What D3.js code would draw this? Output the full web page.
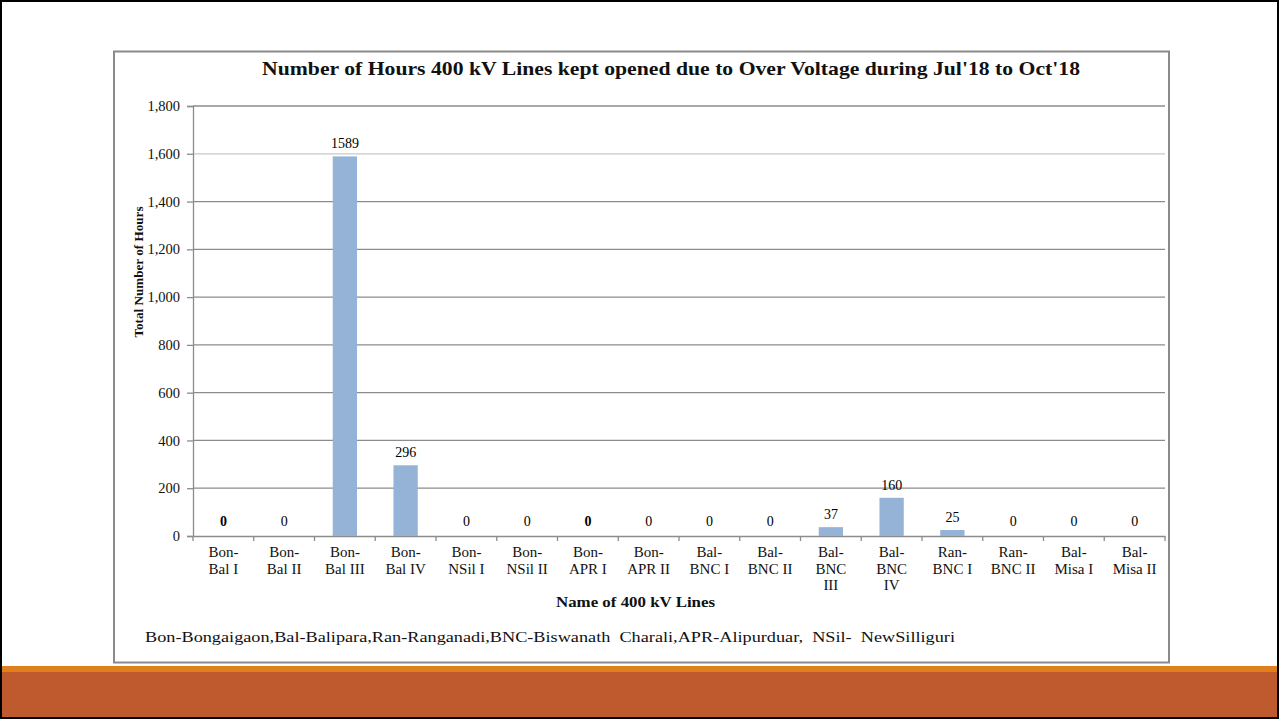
<!DOCTYPE html>
<html><head><meta charset="utf-8">
<script src="https://cdn.jsdelivr.net/npm/d3@7"></script>
<style>body{margin:0;background:#fff;}svg{display:block;font-family:"Liberation Serif","Times New Roman",serif;}</style>
</head><body>
<svg id="c" width="1279" height="719"></svg>
<script>
const categories = ["Bon-\nBal I","Bon-\nBal II","Bon-\nBal III","Bon-\nBal IV","Bon-\nNSil I","Bon-\nNSil II","Bon-\nAPR I","Bon-\nAPR II","Bal-\nBNC I","Bal-\nBNC II","Bal-\nBNC\nIII","Bal-\nBNC\nIV","Ran-\nBNC I","Ran-\nBNC II","Bal-\nMisa I","Bal-\nMisa II"];
const hours = [0,0,1589,296,0,0,0,0,0,0,37,160,25,0,0,0];
const yTicks = [0,200,400,600,800,1000,1200,1400,1600,1800];
const title = "Number of Hours 400 kV Lines kept opened due to Over Voltage during Jul'18 to Oct'18";
const yTitle = "Total Number of Hours";
const xTitle = "Name of 400 kV Lines";
const footnote = "Bon-Bongaigaon,Bal-Balipara,Ran-Ranganadi,BNC-Biswanath  Charali,APR-Alipurduar,  NSil-  NewSilliguri";

const SERIF = "Liberation Serif";
const svg = d3.select("#c");
svg.append("rect").attr("x",1).attr("y",1).attr("width",1277).attr("height",717).attr("fill","#fff").attr("stroke","#000").attr("stroke-width",2);
svg.append("rect").attr("x",2).attr("y",666).attr("width",1275).attr("height",6).attr("fill","#E0801C");
svg.append("rect").attr("x",2).attr("y",672).attr("width",1275).attr("height",45).attr("fill","#BE5A2E");
svg.append("rect").attr("x",114).attr("y",51.5).attr("width",1055).attr("height",611).attr("fill","#fff").attr("stroke","#8a8a8a").attr("stroke-width",2);

const L=193, R=1165, T=106, B=536;
const x = d3.scaleBand().domain(categories).range([L,R]).paddingInner(0.6).paddingOuter(0.3);
const y = d3.scaleLinear().domain([0,1800]).range([B,T]);

svg.append("g").selectAll("line").data(yTicks.filter(d=>d>0)).join("line")
  .attr("x1",L).attr("x2",R).attr("y1",d=>y(d)).attr("y2",d=>y(d))
  .attr("stroke",d=>d===1600?"#c8c8c8":"#8c8c8c").attr("stroke-width",1.3);

const ya = svg.append("g").attr("transform",`translate(${L},0)`)
  .call(d3.axisLeft(y).tickValues(yTicks).tickFormat(d3.format(",")).tickSize(6).tickPadding(7));
ya.attr("font-family",SERIF);
ya.selectAll("path,line").attr("stroke","#8c8c8c").attr("stroke-width",1.3);
ya.selectAll("text").attr("font-size",14.5).attr("fill","#111");

const xa = svg.append("g").attr("transform",`translate(0,${B})`)
  .call(d3.axisBottom(x).tickSize(0).tickFormat(""));
xa.select("path").attr("stroke","#8c8c8c").attr("stroke-width",1.3);
svg.append("g").selectAll("line").data(d3.range(categories.length+1)).join("line")
  .attr("x1",i=>L+i*(R-L)/categories.length).attr("x2",i=>L+i*(R-L)/categories.length)
  .attr("y1",B).attr("y2",B+5).attr("stroke","#8c8c8c").attr("stroke-width",1.3);

const xl = svg.append("g");
categories.forEach(c=>{
  const cx = x(c)+x.bandwidth()/2;
  const t = xl.append("text").attr("x",cx).attr("y",B+21)
    .attr("text-anchor","middle").attr("font-size",15).attr("fill","#111");
  c.split("\n").forEach((ln,i)=>t.append("tspan").attr("x",cx).attr("dy",i===0?0:16.5).text(ln));
});

svg.append("g").selectAll("rect").data(hours).join("rect")
  .attr("x",(d,i)=>x(categories[i])).attr("width",x.bandwidth())
  .attr("y",d=>y(d)).attr("height",d=>B-y(d)).attr("fill","#95B3D7");

svg.append("g").selectAll("text").data(hours).join("text")
  .attr("x",(d,i)=>x(categories[i])+x.bandwidth()/2)
  .attr("y",d=>y(d)-(d===0?10:8))
  .attr("text-anchor","middle").attr("font-size",14).attr("fill","#000")
  .attr("font-weight",(d,i)=>(i===0||i===6)?"bold":"normal")
  .text(d=>d);

svg.append("text").attr("x",262).attr("y",75)
  .attr("textLength",818).attr("lengthAdjust","spacingAndGlyphs")
  .attr("font-size",19).attr("font-weight","bold").attr("fill","#111").text(title);
svg.append("text").attr("transform","translate(143,272) rotate(-90)").attr("text-anchor","middle")
  .attr("textLength",131).attr("lengthAdjust","spacingAndGlyphs")
  .attr("font-size",13).attr("font-weight","bold").attr("fill","#111").text(yTitle);
svg.append("text").attr("x",556).attr("y",607)
  .attr("textLength",159).attr("lengthAdjust","spacingAndGlyphs")
  .attr("font-size",14).attr("font-weight","bold").attr("fill","#111").text(xTitle);
svg.append("text").attr("x",145).attr("y",642).attr("xml:space","preserve")
  .attr("textLength",810).attr("lengthAdjust","spacingAndGlyphs")
  .attr("font-size",15).attr("fill","#111").text(footnote);
</script>
</body></html>
